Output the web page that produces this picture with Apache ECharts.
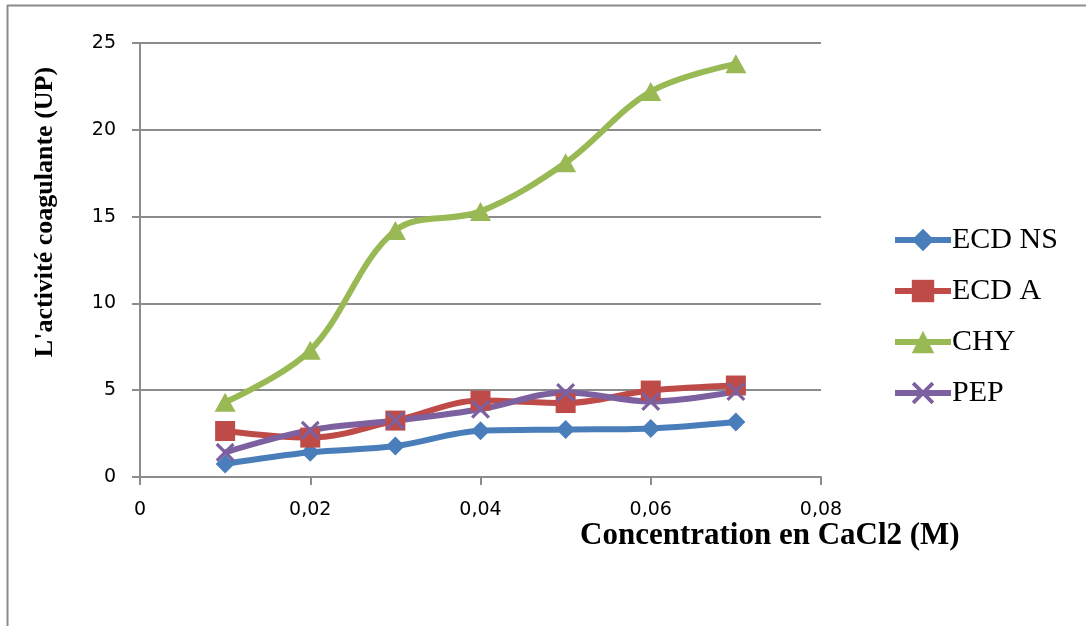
<!DOCTYPE html>
<html>
<head>
<meta charset="utf-8">
<script src="https://cdn.jsdelivr.net/npm/echarts@6/dist/echarts.min.js"></script>
<style>
  html, body { margin: 0; padding: 0; background: #fff; }
  #chart { width: 1086px; height: 626px; }
</style>
</head>
<body>
<div id="chart"></div>
<script>
// CaCl2 concentration (M)
const concentrations = [0.01, 0.02, 0.03, 0.04, 0.05, 0.06, 0.07];

// Coagulating activity (UP) per enzyme extract
const ecdNS = [0.75, 1.42, 1.78, 2.66, 2.73, 2.8, 3.17];
const ecdA  = [2.65, 2.27, 3.25, 4.4, 4.26, 4.98, 5.27];
const chy   = [4.3, 7.3, 14.2, 15.3, 18.1, 22.2, 23.8];
const pep   = [1.42, 2.7, 3.25, 3.9, 4.87, 4.35, 4.92];

const seriesNames = ['ECD NS', 'ECD A', 'CHY', 'PEP'];

const pair = vals => concentrations.map((c, i) => [c, vals[i]]);

const crossPath = 'path://M0,1.2L1.2,0L10,8.8L8.8,10Z M8.8,0L10,1.2L1.2,10L0,8.8Z';

const gridColor = '#8c8c8c';
const serif = '"Liberation Serif", "Times New Roman", serif';
const sans = '"DejaVu Sans", "Open Sans", sans-serif';

function lineSeries(name, vals, color, symbol, size) {
  return {
    name: name,
    type: 'line',
    data: pair(vals),
    smooth: 0.35,
    symbol: symbol,
    symbolSize: size,
    showSymbol: true,
    lineStyle: { color: color, width: 6 },
    itemStyle: { color: color },
    emphasis: { disabled: true },
    z: 3
  };
}

const chart = echarts.init(document.getElementById('chart'));
chart.setOption({
  animation: false,
  backgroundColor: '#fff',
  grid: { left: 140, right: 265, top: 43, bottom: 149 },
  xAxis: {
    type: 'value',
    min: 0, max: 0.08, interval: 0.02,
    axisLine: { show: true, lineStyle: { color: gridColor, width: 2 } },
    axisTick: { show: true, length: 8, lineStyle: { color: gridColor, width: 2 } },
    splitLine: { show: false },
    axisLabel: {
      color: '#000', fontFamily: sans, fontSize: 19, margin: 24,
      formatter: v => v === 0 ? '0' : v.toFixed(2).replace('.', ',')
    }
  },
  yAxis: {
    type: 'value',
    min: 0, max: 25, interval: 5,
    axisLine: { show: true, lineStyle: { color: gridColor, width: 2 } },
    axisTick: { show: true, length: 8, lineStyle: { color: gridColor, width: 2 } },
    splitLine: { show: true, lineStyle: { color: gridColor, width: 2 } },
    axisLabel: { color: '#000', fontFamily: sans, fontSize: 19, margin: 24 }
  },
  legend: {
    data: seriesNames,
    orient: 'vertical',
    left: 887, top: 220,
    itemWidth: 56, itemHeight: 28, itemGap: 21,
    lineStyle: { width: 6 },
    textStyle: { fontFamily: serif, fontSize: 30, color: '#000', lineHeight: 30, padding: [0, 0, 0, -4] },
    selectedMode: false
  },
  series: [
    lineSeries('ECD NS', ecdNS, '#4A7EBB', 'diamond', [19, 19]),
    lineSeries('ECD A', ecdA, '#BE4B48', 'rect', [20, 20]),
    lineSeries('CHY', chy, '#98B954', 'triangle', [21, 19]),
    lineSeries('PEP', pep, '#7D60A0', crossPath, [19, 19])
  ],
  graphic: [
    { type: 'line', shape: { x1: 7, y1: 5.5, x2: 1086, y2: 5.5 }, style: { stroke: '#8c8c8c', lineWidth: 2 } },
    { type: 'line', shape: { x1: 7.5, y1: 5, x2: 7.5, y2: 626 }, style: { stroke: '#8c8c8c', lineWidth: 2 } },
    {
      type: 'text', x: 45, y: 212, rotation: Math.PI / 2,
      style: {
        text: "L'activité coagulante (UP)", fontFamily: serif, fontWeight: 'bold',
        fontSize: 26, fill: '#000', align: 'center', verticalAlign: 'middle'
      }
    },
    {
      type: 'text', left: 580, top: 520,
      style: {
        text: 'Concentration en CaCl2 (M)', fontFamily: serif, fontWeight: 'bold',
        fontSize: 31, fill: '#000'
      }
    }
  ]
});
</script>
</body>
</html>
